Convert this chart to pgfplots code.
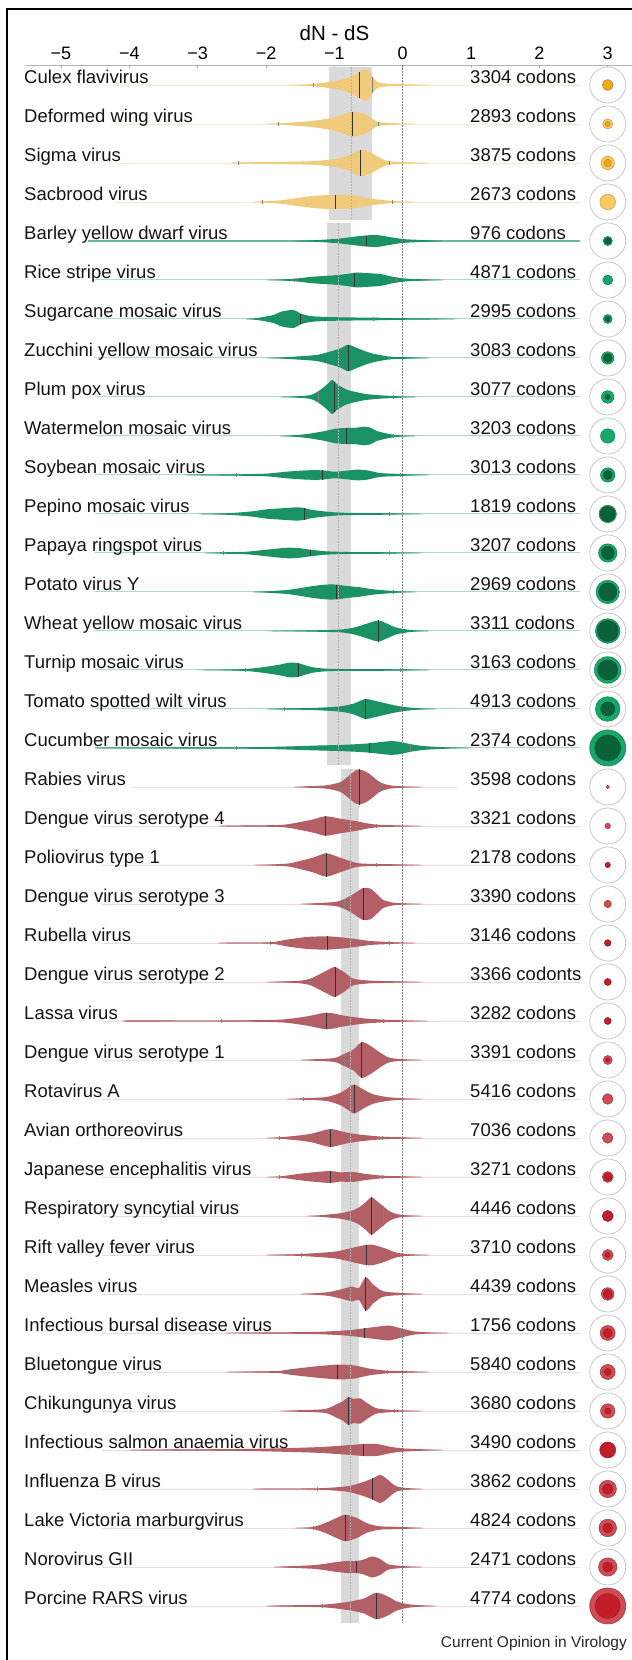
\documentclass[border=0pt]{standalone}
\usepackage{fontspec}
\setmainfont{Liberation Sans}
\usepackage{pgfplots}
\pgfplotsset{compat=1.18}
\definecolor{yelV}{HTML}{EFCB7B}
\definecolor{grnV}{HTML}{1B9263}
\definecolor{redV}{HTML}{B25F66}
\definecolor{yelL}{HTML}{FCCB5F}
\definecolor{yelD}{HTML}{F0A81C}
\definecolor{grnL}{HTML}{15A86A}
\definecolor{grnD}{HTML}{0B6139}
\definecolor{redL}{HTML}{CF4C55}
\definecolor{redD}{HTML}{C21E2A}
\definecolor{band}{HTML}{DADADA}
\newcommand{\lf}{\fontsize{18.5}{22}\selectfont}
\newcommand{\vio}[3]{%
\addplot[fill=#2, draw=none, smooth, tension=0.45, y filter/.expression={-#1+y}] coordinates {#3};
\addplot[fill=#2, draw=none, smooth, tension=0.45, y filter/.expression={-#1-y}] coordinates {#3};}
\newcommand{\tl}[5]{\addplot[draw=#2, line width=#5] coordinates {(#3,-#1) (#4,-#1)};}
\newcommand{\vm}[3]{\addplot[draw=black!80, line width=0.9pt, y filter/.expression={-#1+y}] coordinates {(#2,-#3) (#2,#3)};}
\newcommand{\vt}[3]{\addplot[draw=black!50, line width=0.5pt, y filter/.expression={-#1+y}] coordinates {(#2,-#3) (#2,#3)};}
\newcommand{\bub}[5]{%
\addplot[only marks, mark=*, mark size=18pt, mark options={fill=white, draw=black!22, line width=0.8pt}] coordinates {(3,-#1)};
\addplot[only marks, mark=*, mark size=#2pt, mark options={fill=#3, draw=#3!75!black, line width=0.5pt}] coordinates {(3,-#1)};
\ifdim#4pt>0pt\relax
\addplot[only marks, mark=*, mark size=#4pt, mark options={fill=#5, draw=#5!75!black, line width=0.4pt}] coordinates {(3,-#1)};
\fi}
\newcommand{\lab}[3]{%
\node[anchor=base west, inner sep=0pt, font=\lf, text=black!92, yshift=1pt] at (axis cs:-5.541,-#1) {#2};
\node[anchor=base west, inner sep=0pt, font=\lf, text=black!92, yshift=1pt] at (axis cs:0.985,-#1) {#3};}
\begin{document}
\begin{tikzpicture}
\begin{axis}[name=ax, scale only axis, width=606pt, height=1595pt,
 xmin=-5.512, xmax=3.355, ymin=-41.385, ymax=-0.487,
 axis x line=top, axis y line=none, clip=false,
 x axis line style={draw=black!30, line width=0.8pt, -},
 xtick={-5,-4,-3,-2,-1,0,1,2,3},
 xticklabels={−5,−4,−3,−2,−1,0,1,2,3},
 major tick length=3pt, tick align=inside,
 x tick style={draw=black!30, line width=0.6pt},
 xticklabel style={font=\fontsize{18}{20}\selectfont, anchor=south, inner sep=0pt, yshift=5.5pt},
 xlabel={dN - dS},
 xlabel style={at={(axis description cs:0.509,1.0201)}, anchor=center, font=\fontsize{20.5}{24}\selectfont, inner sep=0pt},
]
% bands
\addplot[fill=band, draw=none] coordinates {(-1.074,-0.546) (-0.445,-0.546) (-0.445,-4.46) (-1.074,-4.46)};
\addplot[fill=band, draw=none] coordinates {(-1.108,-4.546) (-0.761,-4.546) (-0.761,-18.436) (-1.108,-18.436)};
\addplot[fill=band, draw=none] coordinates {(-0.907,-18.54) (-0.644,-18.54) (-0.644,-40.43) (-0.907,-40.43)};
% zero line
\addplot[draw=black!50, line width=0.7pt, dash pattern=on 1.5pt off 1.5pt] coordinates {(0,-0.5) (0,-40.43)};
% tails
\tl{1}{yelV!40}{-4.2}{2.6}{0.8pt}
\tl{2}{yelV!40}{-4.2}{2.6}{0.8pt}
\tl{3}{yelV!40}{-4.2}{2.6}{0.8pt}
\tl{4}{yelV!40}{-4.2}{2.6}{0.8pt}
\tl{5}{grnV!65}{-4.6}{2.6}{1.8pt}
\tl{6}{grnV!35}{-4.5}{2.6}{1pt}
\tl{7}{grnV!35}{-4.5}{2.6}{1pt}
\tl{8}{grnV!35}{-4.5}{2.6}{1pt}
\tl{9}{grnV!35}{-4.5}{2.6}{1pt}
\tl{10}{grnV!35}{-4.5}{2.6}{1pt}
\tl{11}{grnV!35}{-4.5}{2.6}{1pt}
\tl{12}{grnV!35}{-4.5}{2.6}{1pt}
\tl{13}{grnV!35}{-4.5}{2.6}{1pt}
\tl{14}{grnV!35}{-4.5}{2.6}{1pt}
\tl{15}{grnV!35}{-4.5}{2.6}{1pt}
\tl{16}{grnV!35}{-4.5}{2.6}{1pt}
\tl{17}{grnV!35}{-4.5}{2.6}{1pt}
\tl{18}{grnV!35}{-4.5}{2.6}{1pt}
\tl{19}{redV!22}{-3.95}{0.8}{0.8pt}
\tl{20}{redV!22}{-4.4}{2.6}{0.8pt}
\tl{21}{redV!22}{-4.4}{2.6}{0.8pt}
\tl{22}{redV!22}{-4.4}{2.6}{0.8pt}
\tl{23}{redV!22}{-4.4}{2.6}{0.8pt}
\tl{24}{redV!22}{-4.4}{2.6}{0.8pt}
\tl{25}{redV!22}{-4.4}{2.6}{0.8pt}
\tl{26}{redV!22}{-4.4}{2.6}{0.8pt}
\tl{27}{redV!22}{-4.4}{2.6}{0.8pt}
\tl{28}{redV!22}{-4.4}{2.6}{0.8pt}
\tl{29}{redV!22}{-4.4}{2.6}{0.8pt}
\tl{30}{redV!22}{-4.4}{2.6}{0.8pt}
\tl{31}{redV!22}{-4.4}{2.6}{0.8pt}
\tl{32}{redV!22}{-4.4}{2.6}{0.8pt}
\tl{33}{redV!22}{-4.4}{2.6}{0.8pt}
\tl{34}{redV!22}{-4.4}{2.6}{0.8pt}
\tl{35}{redV!22}{-4.4}{2.6}{0.8pt}
\tl{36}{redV!22}{-4.4}{2.6}{0.8pt}
\tl{37}{redV!22}{-4.4}{2.6}{0.8pt}
\tl{38}{redV!22}{-4.4}{2.6}{0.8pt}
\tl{39}{redV!22}{-4.4}{2.6}{0.8pt}
\tl{40}{redV!22}{-4.4}{2.6}{0.8pt}
% violins
\vio{1}{yelV}{(-1.7,-0.01) (-1.31,0.026) (-1.06,0.085) (-0.88,0.14) (-0.75,0.22) (-0.66,0.31) (-0.58,0.39) (-0.5,0.38) (-0.44,0.2) (-0.36,0.07) (-0.2,0.03) (0.1,0.015) (0.4,-0.01)}
\vio{2}{yelV}{(-2.0,-0.01) (-1.82,0.015) (-1.37,0.07) (-1.06,0.15) (-0.87,0.24) (-0.74,0.32) (-0.58,0.27) (-0.44,0.13) (-0.36,0.05) (-0.14,0.02) (0.2,-0.01)}
\vio{3}{yelV}{(-2.5,-0.01) (-2.41,0.012) (-1.37,0.043) (-1.0,0.1) (-0.82,0.17) (-0.62,0.34) (-0.47,0.27) (-0.33,0.13) (-0.2,0.043) (0.1,0.015) (0.4,-0.01)}
\vio{4}{yelV}{(-2.2,-0.01) (-2.06,0.015) (-1.79,0.043) (-1.55,0.1) (-1.31,0.154) (-1.06,0.18) (-0.82,0.18) (-0.67,0.154) (-0.47,0.085) (-0.15,0.026) (0.2,-0.01)}
\vio{5}{grnV}{(-1.6,-0.01) (-1.0,0.05) (-0.82,0.085) (-0.57,0.137) (-0.38,0.154) (-0.19,0.1) (0.0,0.05) (0.16,0.034) (0.35,0.017) (0.6,-0.01)}
\vio{6}{grnV}{(-2.0,-0.01) (-1.58,0.034) (-1.31,0.085) (-1.0,0.12) (-0.82,0.154) (-0.67,0.19) (-0.47,0.17) (-0.33,0.154) (-0.19,0.1) (-0.1,0.068) (0.06,0.034) (0.3,0.017) (0.6,-0.01)}
\vio{7}{grnV}{(-2.3,-0.01) (-2.1,0.034) (-1.9,0.1) (-1.77,0.19) (-1.6,0.23) (-1.48,0.13) (-1.31,0.068) (-0.92,0.043) (-0.43,0.034) (-0.04,0.021) (0.4,0.013) (0.8,-0.01)}
\vio{8}{grnV}{(-2.0,-0.01) (-1.31,0.068) (-1.12,0.137) (-0.92,0.24) (-0.8,0.34) (-0.67,0.256) (-0.47,0.128) (-0.19,0.034) (0.1,0.017) (0.4,-0.01)}
\vio{9}{grnV}{(-1.8,-0.01) (-1.37,0.043) (-1.23,0.154) (-1.12,0.3) (-1.03,0.44) (-0.97,0.34) (-0.82,0.19) (-0.57,0.085) (-0.33,0.043) (-0.14,0.026) (0.2,-0.01)}
\vio{10}{grnV}{(-1.8,-0.01) (-1.6,0.017) (-1.4,0.05) (-1.16,0.12) (-0.97,0.19) (-0.82,0.205) (-0.67,0.214) (-0.57,0.24) (-0.47,0.214) (-0.38,0.128) (-0.14,0.034) (0.2,-0.01)}
\vio{11}{grnV}{(-3.2,-0.01) (-2.9,0.009) (-2.44,0.017) (-2.0,0.034) (-1.7,0.085) (-1.4,0.12) (-1.18,0.12) (-1.0,0.085) (-0.82,0.11) (-0.67,0.137) (-0.52,0.12) (-0.33,0.05) (-0.04,0.026) (0.4,-0.01)}
\vio{12}{grnV}{(-3.0,-0.01) (-2.5,0.026) (-2.2,0.068) (-1.99,0.12) (-1.7,0.154) (-1.55,0.17) (-1.44,0.154) (-1.31,0.1) (-1.0,0.043) (-0.72,0.026) (-0.19,0.017) (0.3,-0.01)}
\vio{13}{grnV}{(-2.9,-0.01) (-2.62,0.017) (-2.28,0.034) (-1.99,0.085) (-1.8,0.12) (-1.65,0.137) (-1.5,0.12) (-1.35,0.085) (-1.12,0.043) (-0.82,0.026) (-0.19,0.017) (0.3,-0.01)}
\vio{14}{grnV}{(-2.2,-0.01) (-1.99,0.017) (-1.7,0.05) (-1.5,0.1) (-1.31,0.154) (-1.12,0.19) (-0.97,0.19) (-0.82,0.154) (-0.62,0.12) (-0.43,0.068) (-0.14,0.026) (0.2,-0.01)}
\vio{15}{grnV}{(-2.0,-0.01) (-1.31,0.017) (-0.92,0.034) (-0.72,0.085) (-0.52,0.19) (-0.36,0.27) (-0.23,0.19) (-0.09,0.085) (0.11,0.026) (0.4,-0.01)}
\vio{16}{grnV}{(-3.0,-0.01) (-2.3,0.026) (-1.99,0.085) (-1.8,0.137) (-1.65,0.19) (-1.52,0.17) (-1.31,0.068) (-1.0,0.026) (-0.04,0.017) (0.4,-0.01)}
\vio{17}{grnV}{(-2.0,-0.01) (-1.74,0.013) (-1.31,0.026) (-0.92,0.068) (-0.72,0.137) (-0.55,0.256) (-0.43,0.22) (-0.23,0.137) (-0.04,0.068) (0.16,0.026) (0.5,-0.01)}
\vio{18}{grnV}{(-4.5,-0.01) (-4.3,0.009) (-2.43,0.017) (-1.8,0.034) (-1.31,0.06) (-0.82,0.085) (-0.48,0.12) (-0.23,0.17) (-0.09,0.17) (0.11,0.1) (0.3,0.05) (0.64,0.017) (1.0,-0.01)}
\vio{19}{redV}{(-1.6,-0.01) (-1.4,0.017) (-1.12,0.043) (-0.92,0.12) (-0.82,0.24) (-0.72,0.385) (-0.64,0.45) (-0.53,0.385) (-0.43,0.256) (-0.33,0.12) (-0.19,0.043) (0.0,0.017) (0.3,-0.01)}
\vio{20}{redV}{(-2.7,-0.01) (-2.53,0.009) (-1.8,0.026) (-1.55,0.085) (-1.31,0.17) (-1.13,0.25) (-0.92,0.19) (-0.67,0.12) (-0.52,0.068) (-0.38,0.034) (-0.1,0.017) (0.3,-0.01)}
\vio{21}{redV}{(-2.2,-0.01) (-1.7,0.034) (-1.55,0.085) (-1.31,0.19) (-1.12,0.3) (-0.92,0.19) (-0.67,0.05) (-0.38,0.026) (-0.1,0.017) (0.3,-0.01)}
\vio{22}{redV}{(-1.5,-0.01) (-1.31,0.017) (-1.0,0.05) (-0.86,0.12) (-0.72,0.256) (-0.58,0.41) (-0.47,0.39) (-0.38,0.256) (-0.28,0.1) (-0.14,0.034) (0.0,0.017) (0.3,-0.01)}
\vio{23}{redV}{(-2.7,-0.01) (-2.53,0.009) (-1.94,0.017) (-1.7,0.085) (-1.4,0.154) (-1.1,0.17) (-0.86,0.137) (-0.62,0.085) (-0.47,0.05) (-0.2,0.026) (0.2,-0.01)}
\vio{24}{redV}{(-2.0,-0.01) (-1.8,0.009) (-1.5,0.034) (-1.35,0.085) (-1.2,0.214) (-1.06,0.34) (-0.99,0.385) (-0.86,0.256) (-0.72,0.085) (-0.47,0.034) (-0.1,0.017) (0.3,-0.01)}
\vio{25}{redV}{(-4.1,-0.01) (-4.0,0.017) (-3.5,0.013) (-2.65,0.013) (-1.8,0.034) (-1.4,0.12) (-1.11,0.214) (-0.86,0.137) (-0.57,0.068) (-0.28,0.034) (0.0,0.017) (0.4,-0.01)}
\vio{26}{redV}{(-1.5,-0.01) (-1.31,0.017) (-1.0,0.05) (-0.86,0.154) (-0.72,0.27) (-0.6,0.46) (-0.47,0.36) (-0.33,0.19) (-0.21,0.068) (-0.05,0.026) (0.3,-0.01)}
\vio{27}{redV}{(-1.7,-0.01) (-1.46,0.017) (-1.12,0.05) (-0.92,0.154) (-0.82,0.256) (-0.71,0.37) (-0.57,0.24) (-0.43,0.12) (-0.23,0.05) (0.0,0.017) (0.3,-0.01)}
\vio{28}{redV}{(-2.0,-0.01) (-1.8,0.017) (-1.5,0.068) (-1.31,0.12) (-1.06,0.23) (-0.86,0.154) (-0.62,0.085) (-0.3,0.034) (0.0,0.017) (0.3,-0.01)}
\vio{29}{redV}{(-2.0,-0.01) (-1.8,0.013) (-1.5,0.085) (-1.31,0.12) (-1.06,0.154) (-0.92,0.12) (-0.72,0.128) (-0.57,0.085) (-0.3,0.034) (0.0,0.017) (0.3,-0.01)}
\vio{30}{redV}{(-1.4,-0.01) (-1.16,0.026) (-0.86,0.085) (-0.67,0.19) (-0.55,0.34) (-0.46,0.48) (-0.38,0.385) (-0.29,0.256) (-0.19,0.12) (-0.04,0.034) (0.3,-0.01)}
\vio{31}{redV}{(-2.0,-0.01) (-1.8,0.009) (-1.48,0.026) (-1.0,0.085) (-0.72,0.19) (-0.53,0.26) (-0.43,0.26) (-0.23,0.154) (-0.11,0.068) (0.05,0.026) (0.4,-0.01)}
\vio{32}{redV}{(-1.5,-0.01) (-1.31,0.017) (-1.08,0.05) (-0.86,0.137) (-0.74,0.19) (-0.64,0.154) (-0.54,0.43) (-0.43,0.24) (-0.28,0.068) (-0.01,0.026) (0.3,-0.01)}
\vio{33}{redV}{(-2.6,-0.01) (-2.3,0.009) (-1.31,0.026) (-0.82,0.068) (-0.56,0.12) (-0.33,0.17) (-0.19,0.19) (-0.03,0.12) (0.16,0.043) (0.35,0.017) (0.7,-0.01)}
\vio{34}{redV}{(-2.6,-0.01) (-2.3,0.009) (-1.8,0.026) (-1.65,0.068) (-1.31,0.137) (-0.95,0.19) (-0.72,0.17) (-0.48,0.085) (-0.23,0.034) (0.1,0.017) (0.4,-0.01)}
\vio{35}{redV}{(-1.8,-0.01) (-1.55,0.017) (-1.14,0.05) (-0.97,0.17) (-0.87,0.256) (-0.79,0.36) (-0.72,0.31) (-0.62,0.325) (-0.53,0.214) (-0.38,0.068) (-0.13,0.026) (0.3,-0.01)}
\vio{36}{redV}{(-4.0,-0.01) (-3.75,0.009) (-2.3,0.026) (-1.31,0.068) (-0.82,0.12) (-0.58,0.154) (-0.38,0.154) (-0.19,0.085) (-0.02,0.043) (0.2,0.026) (0.6,-0.01)}
\vio{37}{redV}{(-2.2,-0.01) (-2.0,0.009) (-1.25,0.017) (-0.82,0.068) (-0.62,0.154) (-0.44,0.27) (-0.33,0.36) (-0.23,0.256) (-0.14,0.12) (-0.04,0.043) (0.3,-0.01)}
\vio{38}{redV}{(-1.6,-0.01) (-1.31,0.026) (-1.12,0.137) (-0.97,0.256) (-0.84,0.34) (-0.67,0.256) (-0.52,0.12) (-0.33,0.043) (0.0,0.026) (0.3,-0.01)}
\vio{39}{redV}{(-1.9,-0.01) (-1.7,0.017) (-1.28,0.05) (-1.0,0.12) (-0.82,0.154) (-0.68,0.154) (-0.57,0.19) (-0.45,0.27) (-0.33,0.205) (-0.21,0.068) (-0.01,0.026) (0.3,-0.01)}
\vio{40}{redV}{(-2.0,-0.01) (-1.8,0.013) (-1.17,0.034) (-0.82,0.1) (-0.57,0.19) (-0.39,0.34) (-0.23,0.256) (-0.09,0.12) (0.06,0.05) (0.2,0.026) (0.5,-0.01)}
% band centre lines
\addplot[draw=black!30, line width=0.6pt, dash pattern=on 2pt off 1pt] coordinates {(-0.746,-0.546) (-0.746,-4.46)};
\addplot[draw=black!30, line width=0.6pt, dash pattern=on 2pt off 1pt] coordinates {(-0.937,-4.546) (-0.937,-18.436)};
\addplot[draw=black!30, line width=0.6pt, dash pattern=on 2pt off 1pt] coordinates {(-0.771,-18.54) (-0.771,-40.43)};
% medians and quantile ticks
\vm{1}{-0.64}{0.34}\vt{1}{-1.31}{0.04}\vt{1}{-0.44}{0.2}
\vm{2}{-0.74}{0.32}\vt{2}{-1.82}{0.04}\vt{2}{-0.36}{0.05}
\vm{3}{-0.62}{0.34}\vt{3}{-2.41}{0.04}\vt{3}{-0.2}{0.045}
\vm{4}{-0.99}{0.18}\vt{4}{-2.06}{0.04}\vt{4}{-0.15}{0.04}
\vm{5}{-0.53}{0.14}\vt{5}{0.0}{0.05}
\vm{6}{-0.70}{0.185}\vt{6}{-1.58}{0.04}\vt{6}{-0.1}{0.068}
\vm{7}{-1.49}{0.14}\vt{7}{-0.43}{0.04}
\vm{8}{-0.80}{0.34}\vt{8}{-0.19}{0.04}
\vm{9}{-1.00}{0.38}\vt{9}{-1.23}{0.154}\vt{9}{-0.14}{0.04}
\vm{10}{-0.82}{0.205}\vt{10}{-0.14}{0.04}
\vm{11}{-1.18}{0.12}\vt{11}{-2.44}{0.04}\vt{11}{-0.04}{0.04}
\vm{12}{-1.44}{0.154}\vt{12}{-0.19}{0.04}
\vm{13}{-1.35}{0.085}\vt{13}{-2.62}{0.04}\vt{13}{-0.19}{0.04}
\vm{14}{-0.97}{0.19}\vt{14}{-0.14}{0.04}
\vm{15}{-0.36}{0.27}
\vm{16}{-1.52}{0.17}\vt{16}{-2.3}{0.04}\vt{16}{-0.04}{0.04}
\vm{17}{-0.55}{0.256}\vt{17}{-1.74}{0.04}\vt{17}{-0.04}{0.068}
\vm{18}{-0.48}{0.12}\vt{18}{-2.43}{0.04}\vt{18}{0.11}{0.1}
\vm{19}{-0.64}{0.45}\vt{19}{-0.92}{0.12}\vt{19}{-0.33}{0.12}
\vm{20}{-1.13}{0.25}\vt{20}{-0.38}{0.04}
\vm{21}{-1.12}{0.3}\vt{21}{-1.55}{0.085}\vt{21}{-0.38}{0.04}
\vm{22}{-0.58}{0.41}\vt{22}{-0.86}{0.12}
\vm{23}{-1.10}{0.17}\vt{23}{-1.94}{0.04}\vt{23}{-0.2}{0.04}
\vm{24}{-0.99}{0.385}\vt{24}{-1.35}{0.085}
\vm{25}{-1.11}{0.214}\vt{25}{-2.65}{0.04}\vt{25}{-0.28}{0.04}
\vm{26}{-0.60}{0.46}\vt{26}{-0.86}{0.154}\vt{26}{-0.21}{0.068}
\vm{27}{-0.71}{0.37}\vt{27}{-1.46}{0.04}\vt{27}{-0.23}{0.05}
\vm{28}{-1.06}{0.23}\vt{28}{-1.8}{0.04}\vt{28}{-0.3}{0.04}
\vm{29}{-1.06}{0.154}\vt{29}{-1.8}{0.04}\vt{29}{-0.3}{0.04}
\vm{30}{-0.46}{0.48}\vt{30}{-0.29}{0.256}
\vm{31}{-0.53}{0.26}\vt{31}{-1.48}{0.04}\vt{31}{-0.11}{0.068}
\vm{32}{-0.54}{0.43}\vt{32}{-1.08}{0.05}\vt{32}{-0.01}{0.04}
\vm{33}{-0.56}{0.12}\vt{33}{-0.03}{0.12}
\vm{34}{-0.95}{0.19}\vt{34}{-1.65}{0.068}\vt{34}{-0.23}{0.04}
\vm{35}{-0.79}{0.36}\vt{35}{-1.14}{0.05}\vt{35}{-0.13}{0.04}
\vm{36}{-0.58}{0.154}\vt{36}{-0.02}{0.045}
\vm{37}{-0.44}{0.27}\vt{37}{-1.25}{0.04}\vt{37}{-0.04}{0.045}
\vm{38}{-0.84}{0.34}\vt{38}{-1.31}{0.04}\vt{38}{0.0}{0.04}
\vm{39}{-0.68}{0.154}\vt{39}{-1.28}{0.05}\vt{39}{-0.01}{0.04}
\vm{40}{-0.39}{0.34}\vt{40}{-1.17}{0.04}\vt{40}{0.06}{0.05}
% circles
\bub{1}{5.4}{yelD}{0}{yelD}
\bub{2}{5}{yelL}{2.5}{yelD}
\bub{3}{6.7}{yelL}{3.7}{yelD}
\bub{4}{7.8}{yelL}{0}{yelL}
\bub{5}{4.6}{grnL}{3.3}{grnD}
\bub{6}{5}{grnL}{0}{grnL}
\bub{7}{4.5}{grnL}{2.5}{grnD}
\bub{8}{6.3}{grnL}{4.3}{grnD}
\bub{9}{6.3}{grnL}{2.5}{grnD}
\bub{10}{7.2}{grnL}{0}{grnL}
\bub{11}{7.2}{grnL}{4.5}{grnD}
\bub{12}{8.7}{grnL}{7.5}{grnD}
\bub{13}{9.2}{grnL}{6.5}{grnD}
\bub{14}{11.7}{grnL}{9}{grnD}
\bub{15}{12.3}{grnL}{10.5}{grnD}
\bub{16}{13.3}{grnL}{10}{grnD}
\bub{17}{12.3}{grnL}{7}{grnD}
\bub{18}{18}{grnL}{13}{grnD}
\bub{19}{1.7}{redL}{0}{redL}
\bub{20}{2.8}{redL}{0}{redL}
\bub{21}{2.7}{redD}{0}{redD}
\bub{22}{3.7}{redL}{0}{redL}
\bub{23}{3.3}{redD}{0}{redD}
\bub{24}{3.5}{redD}{0}{redD}
\bub{25}{3.5}{redD}{0}{redD}
\bub{26}{4.5}{redL}{2}{redD}
\bub{27}{5.3}{redL}{0}{redL}
\bub{28}{5.3}{redL}{0}{redL}
\bub{29}{5.5}{redL}{4}{redD}
\bub{30}{5.5}{redD}{0}{redD}
\bub{31}{5.5}{redL}{2.5}{redD}
\bub{32}{6.3}{redL}{4.5}{redD}
\bub{33}{7.5}{redL}{4.5}{redD}
\bub{34}{7.5}{redL}{3.5}{redD}
\bub{35}{7.2}{redL}{3}{redD}
\bub{36}{8}{redD}{0}{redD}
\bub{37}{8.7}{redL}{5.2}{redD}
\bub{38}{8.8}{redL}{4.8}{redD}
\bub{39}{9.2}{redL}{5}{redD}
\bub{40}{18}{redL}{12.5}{redD}
% labels
\lab{1}{Culex flavivirus}{3304 codons}
\lab{2}{Deformed wing virus}{2893 codons}
\lab{3}{Sigma virus}{3875 codons}
\lab{4}{Sacbrood virus}{2673 codons}
\lab{5}{Barley yellow dwarf virus}{976 codons}
\lab{6}{Rice stripe virus}{4871 codons}
\lab{7}{Sugarcane mosaic virus}{2995 codons}
\lab{8}{Zucchini yellow mosaic virus}{3083 codons}
\lab{9}{Plum pox virus}{3077 codons}
\lab{10}{Watermelon mosaic virus}{3203 codons}
\lab{11}{Soybean mosaic virus}{3013 codons}
\lab{12}{Pepino mosaic virus}{1819 codons}
\lab{13}{Papaya ringspot virus}{3207 codons}
\lab{14}{Potato virus Y}{2969 codons}
\lab{15}{Wheat yellow mosaic virus}{3311 codons}
\lab{16}{Turnip mosaic virus}{3163 codons}
\lab{17}{Tomato spotted wilt virus}{4913 codons}
\lab{18}{Cucumber mosaic virus}{2374 codons}
\lab{19}{Rabies virus}{3598 codons}
\lab{20}{Dengue virus serotype 4}{3321 codons}
\lab{21}{Poliovirus type 1}{2178 codons}
\lab{22}{Dengue virus serotype 3}{3390 codons}
\lab{23}{Rubella virus}{3146 codons}
\lab{24}{Dengue virus serotype 2}{3366 codonts}
\lab{25}{Lassa virus}{3282 codons}
\lab{26}{Dengue virus serotype 1}{3391 codons}
\lab{27}{Rotavirus A}{5416 codons}
\lab{28}{Avian orthoreovirus}{7036 codons}
\lab{29}{Japanese encephalitis virus}{3271 codons}
\lab{30}{Respiratory syncytial virus}{4446 codons}
\lab{31}{Rift valley fever virus}{3710 codons}
\lab{32}{Measles virus}{4439 codons}
\lab{33}{Infectious bursal disease virus}{1756 codons}
\lab{34}{Bluetongue virus}{5840 codons}
\lab{35}{Chikungunya virus}{3680 codons}
\lab{36}{Infectious salmon anaemia virus}{3490 codons}
\lab{37}{Influenza B virus}{3862 codons}
\lab{38}{Lake Victoria marburgvirus}{4824 codons}
\lab{39}{Norovirus GII}{2471 codons}
\lab{40}{Porcine RARS virus}{4774 codons}
\node[anchor=east, inner sep=0pt, font=\fontsize{15.5}{18}\selectfont, text=black!85] at (axis cs:3.282,-40.97) {Current Opinion in Virology};
\draw[black, line width=1.3pt] (axis cs:-5.79,-41.6) -- (axis cs:-5.79,0.949) -- (axis cs:3.5,0.949);
\end{axis}
\pgfresetboundingbox
\path ([xshift=-26pt]ax.south west) rectangle ([yshift=65pt]ax.north east);
\end{tikzpicture}
\end{document}
